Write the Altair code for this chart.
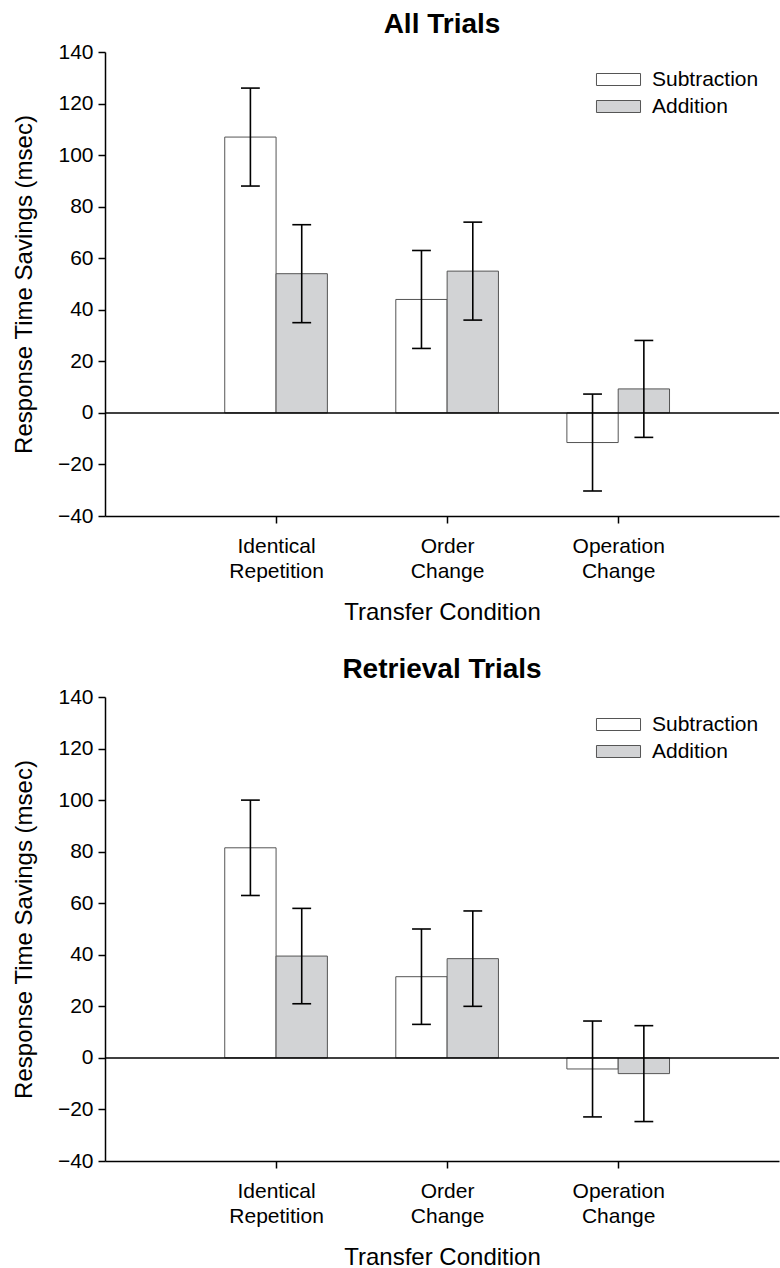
import altair as alt
import pandas as pd

conditions = ["Identical Repetition", "Order Change", "Operation Change"]
operations = ["Subtraction", "Addition"]

# All Trials
all_sub_mean = [107, 44, -11.5]
all_sub_err = [19, 19, 18.8]
all_add_mean = [54, 55, 9.3]
all_add_err = [19, 19, 18.8]

# Retrieval Trials
ret_sub_mean = [81.5, 31.5, -4.3]
ret_sub_err = [18.5, 18.5, 18.6]
ret_add_mean = [39.5, 38.5, -6.1]
ret_add_err = [18.5, 18.5, 18.6]

y_ticks = [-40, -20, 0, 20, 40, 60, 80, 100, 120, 140]

FONT = "Liberation Sans"

# label expression built from the category names (two lines each)
parts = []
for i, c in enumerate(conditions):
    words = c.split(" ")
    arr = "[" + ",".join("'" + w + "'" for w in words) + "]"
    parts.append((i + 1, arr))
label_expr = ""
for idx, arr in parts[:-1]:
    label_expr += f"datum.value == {idx} ? {arr} : "
label_expr += parts[-1][1]


def panel(title, sub_mean, sub_err, add_mean, add_err):
    rows = []
    for i, c in enumerate(conditions):
        rows.append(dict(cond=c, idx=i + 1, op=operations[0], side=-1,
                         mean=sub_mean[i], err=sub_err[i]))
        rows.append(dict(cond=c, idx=i + 1, op=operations[1], side=1,
                         mean=add_mean[i], err=add_err[i]))
    df = pd.DataFrame(rows)

    base = alt.Chart(df).transform_calculate(
        x0="datum.idx + (datum.side < 0 ? -0.3 : 0)",
        x1="datum.idx + (datum.side < 0 ? 0 : 0.3)",
        xc="datum.idx + datum.side * 0.15",
        c0="datum.idx + datum.side * 0.15 - 0.055",
        c1="datum.idx + datum.side * 0.15 + 0.055",
        lo="datum.mean - datum.err",
        hi="datum.mean + datum.err",
        zero="0",
    )

    xscale = alt.Scale(domain=[0, 3.94], nice=False, zero=False)
    yscale = alt.Scale(domain=[-40, 140], nice=False)

    bars = base.mark_bar(stroke="#555555", strokeWidth=1).encode(
        x=alt.X("x0:Q", scale=xscale,
                axis=alt.Axis(values=[1, 2, 3], labelExpr=label_expr,
                              title="Transfer Condition", labelLineHeight=25,
                              labelBaseline="top", labelPadding=12,
                              titlePadding=19)),
        x2="x1:Q",
        y=alt.Y("mean:Q", scale=yscale,
                axis=alt.Axis(values=y_ticks, title="Response Time Savings (msec)",
                              labelPadding=5, titlePadding=21)),
        y2="zero:Q",
        fill=alt.Fill("op:N",
                      scale=alt.Scale(domain=operations, range=["#ffffff", "#d2d3d5"]),
                      legend=alt.Legend(
                          title=None, orient="none", legendX=487, legendY=17,
                          symbolType="M-3.67,-1L3.67,-1L3.67,1L-3.67,1Z",
                          symbolSize=144, symbolOffset=16,
                          symbolStrokeColor="#555555", symbolStrokeWidth=1,
                          labelFont=FONT, labelFontSize=21, labelColor="black",
                          labelOffset=23, rowPadding=5, padding=0)),
    )

    zero_rule = alt.Chart(pd.DataFrame({"v": [0]})).mark_rule(
        color="black", strokeWidth=1.5).encode(y=alt.Y("v:Q", scale=yscale))

    err = base.mark_rule(color="black", strokeWidth=1.6).encode(
        x=alt.X("xc:Q", scale=xscale), y=alt.Y("lo:Q", scale=yscale), y2="hi:Q")
    cap_lo = base.mark_rule(color="black", strokeWidth=1.6).encode(
        x=alt.X("c0:Q", scale=xscale), x2="c1:Q", y=alt.Y("lo:Q", scale=yscale))
    cap_hi = base.mark_rule(color="black", strokeWidth=1.6).encode(
        x=alt.X("c0:Q", scale=xscale), x2="c1:Q", y=alt.Y("hi:Q", scale=yscale))

    return alt.layer(bars, zero_rule, err, cap_lo, cap_hi).properties(
        width=674, height=464,
        title=alt.TitleParams(title, fontSize=28, fontWeight="bold", font=FONT,
                              anchor="middle", offset=2, color="black"),
    )


p1 = panel("All Trials", all_sub_mean, all_sub_err, all_add_mean, all_add_err)
p2 = panel("Retrieval Trials", ret_sub_mean, ret_sub_err, ret_add_mean, ret_add_err)

chart = alt.vconcat(p1, p2, spacing=32).resolve_scale(
    fill="independent").resolve_legend(fill="independent").properties(
    padding={"left": 12, "top": 11, "right": 0, "bottom": 0}
).configure_view(strokeWidth=0).configure_axis(
    grid=False, domainColor="black", domainWidth=1.5, tickColor="black",
    tickWidth=1.5, tickSize=7, labelColor="black", titleColor="black",
    labelFont=FONT, titleFont=FONT, labelFontSize=21, titleFontSize=24,
    titleFontWeight="normal",
)

chart.save("out.html", embed_options={"renderer": "svg", "actions": False})
